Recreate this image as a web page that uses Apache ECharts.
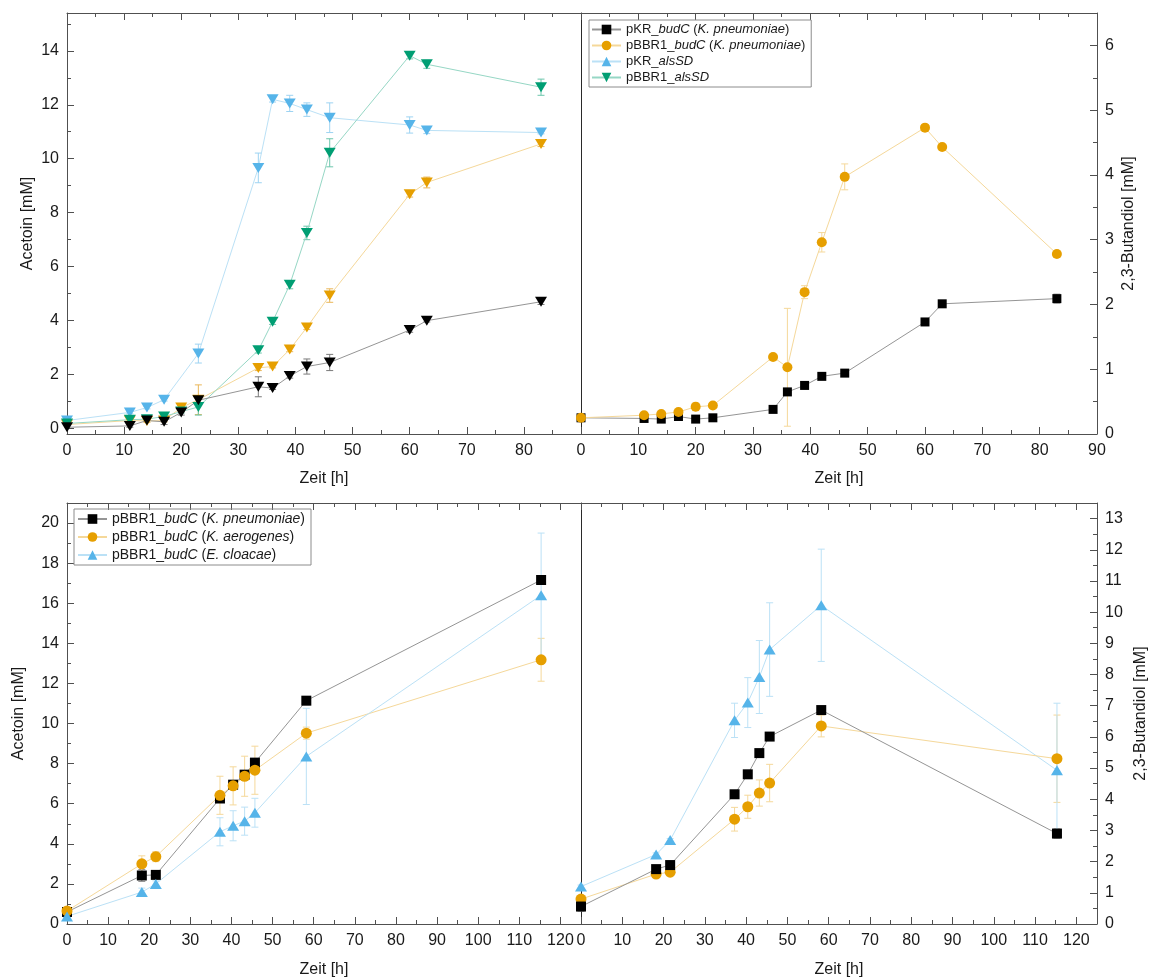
<!DOCTYPE html>
<html><head><meta charset="utf-8">
<script src="https://cdn.jsdelivr.net/npm/echarts@6/dist/echarts.min.js"></script>
<style>html,body{margin:0;padding:0;background:#fff}#c{width:1153px;height:980px}</style>
</head><body><div id="c"></div>
<script>
// ---------------- data ----------------
// Top row (time in h)
const tTop = [0, 11, 14, 17, 20, 23, 33.5, 36, 39, 42, 46, 60, 63, 83];
const acetoinTop_pKR_budC    = [0.05, 0.1, 0.3, 0.25, 0.6, 1.05, 1.55, 1.5, 1.95, 2.3, 2.45, 3.65, 4.0, 4.7];
const acetoinTop_pBBR1_budC  = [0.15, 0.3, 0.28, 0.3, 0.78, 1.07, 2.25, 2.3, 2.93, 3.75, 4.93, 8.68, 9.12, 10.55];
const acetoinTop_pKR_alsSD   = [0.3, 0.6, 0.78, 1.07, null, 2.78, 9.66, 12.2, 12.05, 11.82, 11.52, 11.25, 11.05, 10.97];
const acetoinTop_pBBR1_alsSD = [0.19, 0.33, 0.35, 0.45, 0.63, 0.8, 2.9, 3.96, 5.33, 7.25, 10.22, 13.82, 13.5, 12.65];
const acetoinTopErr_pKR_budC    = [0, 0.05, 0, 0.1, 0.1, 0.1, 0.37, 0.05, 0.08, 0.28, 0.3, 0.08, 0.05, 0.1];
const acetoinTopErr_pBBR1_budC  = [0, 0.05, 0.05, 0.05, 0.15, 0.55, 0.1, 0.05, 0.08, 0.08, 0.25, 0.1, 0.2, 0.1];
const acetoinTopErr_pKR_alsSD   = [0.05, 0.05, 0.05, 0.05, null, 0.35, 0.55, 0.1, 0.3, 0.25, 0.55, 0.3, 0.12, 0.05];
const acetoinTopErr_pBBR1_alsSD = [0.05, 0.05, 0.05, 0.05, 0.05, 0.3, 0.1, 0.1, 0.15, 0.25, 0.52, 0.12, 0.15, 0.3];
const butandiolTop_pKR_budC   = [0.25, 0.24, 0.23, 0.27, 0.23, 0.25, 0.38, 0.65, 0.75, 0.89, 0.94, 1.73, 2.01, 2.09];
const butandiolTop_pBBR1_budC = [0.25, 0.29, 0.31, 0.34, 0.42, 0.44, 1.19, 1.03, 2.19, 2.96, 3.97, 4.73, 4.43, 2.78];
const butandiolTopErr_pKR_budC   = [0.02, 0.02, 0.02, 0.02, 0.02, 0.02, 0.02, 0.05, 0.02, 0.02, 0.02, 0.02, 0.02, 0.07];
const butandiolTopErr_pBBR1_budC = [0.02, 0.02, 0.02, 0.03, 0.06, 0.03, 0.02, 0.91, 0.1, 0.15, 0.2, 0.02, 0.02, 0.05];

// Bottom row
const tBottom = [0, 18.2, 21.6, 37.2, 40.4, 43.2, 45.7, 58.2, 115.3];
const acetoinBottom_Kpn = [0.6, 2.42, 2.45, 6.26, 6.95, 7.45, 8.05, 11.14, 17.16];
const acetoinBottom_Kae = [0.65, 3.0, 3.36, 6.42, 6.89, 7.37, 7.67, 9.52, 13.18];
const acetoinBottom_Ecl = [0.38, 1.59, 2.0, 4.6, 4.9, 5.13, 5.55, 8.36, 16.4];
const acetoinBottomErr_Kpn = [0.1, 0.3, 0.1, 0.1, 0.1, 0.1, 0.1, 0.2, 0.2];
const acetoinBottomErr_Kae = [0.1, 0.4, 0.25, 0.95, 0.95, 1.0, 1.2, 0.3, 1.07];
const acetoinBottomErr_Ecl = [0.05, 0.2, 0.15, 0.7, 0.75, 0.7, 0.72, 2.4, 3.1];
const butandiolBottom_Kpn = [0.56, 1.76, 1.89, 4.16, 4.8, 5.48, 6.01, 6.86, 2.9];
const butandiolBottom_Kae = [0.8, 1.6, 1.66, 3.36, 3.76, 4.2, 4.52, 6.35, 5.3];
const butandiolBottom_Ecl = [1.2, 2.23, 2.69, 6.53, 7.1, 7.92, 8.8, 10.22, 4.93];
const butandiolBottomErr_Kpn = [0.15, 0.1, 0.1, 0.1, 0.1, 0.1, 0.1, 0.1, 0.15];
const butandiolBottomErr_Kae = [0.1, 0.1, 0.1, 0.38, 0.37, 0.42, 0.6, 0.35, 1.4];
const butandiolBottomErr_Ecl = [0.05, 0.05, 0.05, 0.55, 0.8, 1.17, 1.5, 1.8, 2.15];

// names (bottom names carry a trailing space so they stay distinct from the top legend's series)
const legendTopNames = ['pKR_budC (K. pneumoniae)', 'pBBR1_budC (K. pneumoniae)', 'pKR_alsSD', 'pBBR1_alsSD'];
const legendBottomNames = ['pBBR1_budC (K. pneumoniae) ', 'pBBR1_budC (K. aerogenes) ', 'pBBR1_budC (E. cloacae) '];

// ticks
const xMajorTop = [0, 10, 20, 30, 40, 50, 60, 70, 80, 90];
const xMinorTop = [5, 15, 25, 35, 45, 55, 65, 75, 85];
const xLabelsTopLeft = [0, 10, 20, 30, 40, 50, 60, 70, 80];
const xLabelsTopRight = [0, 10, 20, 30, 40, 50, 60, 70, 80, 90];
const yMajorAcetoinTop = [0, 2, 4, 6, 8, 10, 12, 14];
const yMinorAcetoinTop = [1, 3, 5, 7, 9, 11, 13, 15];
const yMajorButandiolTop = [0, 1, 2, 3, 4, 5, 6];
const yMinorButandiolTop = [0.5, 1.5, 2.5, 3.5, 4.5, 5.5];
const xMajorBottom = [0, 10, 20, 30, 40, 50, 60, 70, 80, 90, 100, 110, 120];
const xMinorBottom = [5, 15, 25, 35, 45, 55, 65, 75, 85, 95, 105, 115];
const yMajorAcetoinBottom = [0, 2, 4, 6, 8, 10, 12, 14, 16, 18, 20];
const yMinorAcetoinBottom = [1, 3, 5, 7, 9, 11, 13, 15, 17, 19];
const yMajorButandiolBottom = [0, 1, 2, 3, 4, 5, 6, 7, 8, 9, 10, 11, 12, 13];
const yMinorButandiolBottom = [0.5, 1.5, 2.5, 3.5, 4.5, 5.5, 6.5, 7.5, 8.5, 9.5, 10.5, 11.5, 12.5];

// ---------------- styling ----------------
const FONT = "'Liberation Sans', Arial, Helvetica, sans-serif";
const AX = '#505050';
const DIV = '#2a2a2a';
const TXT = '#1a1a1a';
const C_BLACK = '#000000', L_BLACK = '#959595';
const C_ORANGE = '#E69F00', L_ORANGE = '#F5D89A';
const C_BLUE = '#56B4E9', L_BLUE = '#BBE1F6';
const C_GREEN = '#009E73', L_GREEN = '#96D7C5';

const xAxes = [], yAxes = [];
function addXAxes(grid, min, max, major, minor, labels, name, nameGap) {
  const base = {gridIndex: grid, type: 'value', min: min, max: max, splitLine: {show: false}, axisPointer: {show: false}};
  const idx = xAxes.length;
  xAxes.push(Object.assign({}, base, {position: 'bottom', name: name, nameLocation: 'middle', nameGap: nameGap,
    nameTextStyle: {fontFamily: FONT, fontSize: 16, color: TXT},
    axisLine: {show: true, onZero: false, lineStyle: {color: AX, width: 1}},
    axisTick: {show: true, inside: true, length: 7, customValues: major, lineStyle: {color: AX}},
    axisLabel: {show: true, customValues: labels, margin: 9, fontFamily: FONT, fontSize: 16, color: TXT}}));
  xAxes.push(Object.assign({}, base, {position: 'bottom', axisLine: {show: false, onZero: false},
    axisTick: {show: true, inside: true, length: 4, customValues: minor, lineStyle: {color: AX}}, axisLabel: {show: false}}));
  xAxes.push(Object.assign({}, base, {position: 'top', axisLine: {show: true, onZero: false, lineStyle: {color: AX, width: 1}},
    axisTick: {show: true, inside: true, length: 7, customValues: major, lineStyle: {color: AX}}, axisLabel: {show: false}}));
  xAxes.push(Object.assign({}, base, {position: 'top', axisLine: {show: false, onZero: false},
    axisTick: {show: true, inside: true, length: 4, customValues: minor, lineStyle: {color: AX}}, axisLabel: {show: false}}));
  return idx;
}
function addYAxes(grid, pos, min, max, major, minor, name, nameGap, divider) {
  const base = {gridIndex: grid, type: 'value', min: min, max: max, position: pos, splitLine: {show: false}, axisPointer: {show: false}};
  const idx = yAxes.length;
  yAxes.push(Object.assign({}, base, {name: name, nameLocation: 'middle', nameGap: nameGap, nameRotate: 90,
    nameTextStyle: {fontFamily: FONT, fontSize: 16, color: TXT},
    axisLine: {show: true, onZero: false, lineStyle: {color: AX, width: 1}},
    axisTick: {show: true, inside: true, length: 7, customValues: major, lineStyle: {color: AX}},
    axisLabel: {show: true, customValues: major, margin: 8, fontFamily: FONT, fontSize: 16, color: TXT}}));
  yAxes.push(Object.assign({}, base, {axisLine: {show: false, onZero: false},
    axisTick: {show: true, inside: true, length: 4, customValues: minor, lineStyle: {color: AX}}, axisLabel: {show: false}}));
  if (divider) {
    // plain line on the panel's left edge (shared border between the two panels)
    yAxes.push({gridIndex: grid, type: 'value', min: min, max: max, position: 'left', splitLine: {show: false},
      axisLine: {show: true, onZero: false, lineStyle: {color: DIV, width: 1}}, axisTick: {show: false}, axisLabel: {show: false}});
  }
  return idx;
}

const xTL = addXAxes(0, 0, 90, xMajorTop, xMinorTop, xLabelsTopLeft, 'Zeit [h]', 37);
const xTR = addXAxes(1, 0, 90, xMajorTop, xMinorTop, xLabelsTopRight, 'Zeit [h]', 37);
const xBL = addXAxes(2, 0, 125, xMajorBottom, xMinorBottom, xMajorBottom, 'Zeit [h]', 38);
const xBR = addXAxes(3, 0, 125, xMajorBottom, xMinorBottom, xMajorBottom, 'Zeit [h]', 38);
const yTL = addYAxes(0, 'left', -0.2, 15.4, yMajorAcetoinTop, yMinorAcetoinTop, 'Acetoin [mM]', 31, false);
const yTR = addYAxes(1, 'right', 0, 6.5, yMajorButandiolTop, yMinorButandiolTop, '2,3-Butandiol [mM]', 24, true);
const yBL = addYAxes(2, 'left', 0, 21, yMajorAcetoinBottom, yMinorAcetoinBottom, 'Acetoin [mM]', 40, false);
const yBR = addYAxes(3, 'right', 0, 13.5, yMajorButandiolBottom, yMinorButandiolBottom, '2,3-Butandiol [mM]', 36, true);

function pairs(t, v) {
  const out = [];
  t.forEach((x, i) => { if (v[i] != null) out.push([x, v[i]]); });
  return out;
}
function errTriples(t, v, e) {
  const out = [];
  t.forEach((x, i) => { if (v[i] != null && e[i]) out.push([x, v[i] - e[i], v[i] + e[i]]); });
  return out;
}
function lineS(name, xi, yi, t, v, color, lcolor, symbol, size, rotate) {
  return {type: 'line', name: name, xAxisIndex: xi, yAxisIndex: yi, data: pairs(t, v),
    symbol: symbol, symbolSize: size, symbolRotate: rotate || 0, showSymbol: true, showAllSymbol: true,
    itemStyle: {color: color, borderWidth: 0}, lineStyle: {color: lcolor, width: 1}, z: 3,
    emphasis: {disabled: true}, silent: true};
}
function errS(xi, yi, t, v, e, color) {
  return {type: 'custom', xAxisIndex: xi, yAxisIndex: yi, data: errTriples(t, v, e), encode: {x: 0, y: [1, 2]},
    z: 2, silent: true, itemStyle: {color: color},
    renderItem: function (params, api) {
      const x = api.value(0);
      const p1 = api.coord([x, api.value(1)]);
      const p2 = api.coord([x, api.value(2)]);
      const w = 3.5;
      const st = {stroke: color, lineWidth: 1, fill: null};
      return {type: 'group', children: [
        {type: 'line', shape: {x1: p1[0], y1: p1[1], x2: p2[0], y2: p2[1]}, style: st},
        {type: 'line', shape: {x1: p1[0] - w, y1: p1[1], x2: p1[0] + w, y2: p1[1]}, style: st},
        {type: 'line', shape: {x1: p2[0] - w, y1: p2[1], x2: p2[0] + w, y2: p2[1]}, style: st}
      ]};
    }};
}

const TRI = [12, 10];
const series = [
  // top-right (first, so that the legend takes its symbols)
  lineS(legendTopNames[0], xTR, yTR, tTop, butandiolTop_pKR_budC, C_BLACK, L_BLACK, 'rect', 9),
  lineS(legendTopNames[1], xTR, yTR, tTop, butandiolTop_pBBR1_budC, C_ORANGE, L_ORANGE, 'circle', 10),
  lineS(legendTopNames[2], xTR, yTR, [], [], C_BLUE, L_BLUE, 'triangle', 10),
  lineS(legendTopNames[3], xTR, yTR, [], [], C_GREEN, L_GREEN, 'triangle', 10, 180),
  errS(xTR, yTR, tTop, butandiolTop_pKR_budC, butandiolTopErr_pKR_budC, L_BLACK),
  errS(xTR, yTR, tTop, butandiolTop_pBBR1_budC, butandiolTopErr_pBBR1_budC, L_ORANGE),
  // bottom-left acetoin (before bottom-right so the bottom legend takes these symbols)
  errS(xBL, yBL, tBottom, acetoinBottom_Kpn, acetoinBottomErr_Kpn, L_BLACK),
  errS(xBL, yBL, tBottom, acetoinBottom_Kae, acetoinBottomErr_Kae, L_ORANGE),
  errS(xBL, yBL, tBottom, acetoinBottom_Ecl, acetoinBottomErr_Ecl, L_BLUE),
  lineS(legendBottomNames[0], xBL, yBL, tBottom, acetoinBottom_Kpn, C_BLACK, L_BLACK, 'rect', 10),
  lineS(legendBottomNames[1], xBL, yBL, tBottom, acetoinBottom_Kae, C_ORANGE, L_ORANGE, 'circle', 11),
  lineS(legendBottomNames[2], xBL, yBL, tBottom, acetoinBottom_Ecl, C_BLUE, L_BLUE, 'triangle', TRI),
  // top-left acetoin
  errS(xTL, yTL, tTop, acetoinTop_pKR_budC, acetoinTopErr_pKR_budC, '#7a7a7a'),
  errS(xTL, yTL, tTop, acetoinTop_pBBR1_budC, acetoinTopErr_pBBR1_budC, '#EAB75A'),
  errS(xTL, yTL, tTop, acetoinTop_pKR_alsSD, acetoinTopErr_pKR_alsSD, '#9DD3F2'),
  errS(xTL, yTL, tTop, acetoinTop_pBBR1_alsSD, acetoinTopErr_pBBR1_alsSD, '#6CC6AC'),
  lineS(legendTopNames[2], xTL, yTL, tTop, acetoinTop_pKR_alsSD, C_BLUE, L_BLUE, 'triangle', TRI, 180),
  lineS(legendTopNames[1], xTL, yTL, tTop, acetoinTop_pBBR1_budC, C_ORANGE, L_ORANGE, 'triangle', TRI, 180),
  lineS(legendTopNames[3], xTL, yTL, tTop, acetoinTop_pBBR1_alsSD, C_GREEN, L_GREEN, 'triangle', TRI, 180),
  lineS(legendTopNames[0], xTL, yTL, tTop, acetoinTop_pKR_budC, C_BLACK, L_BLACK, 'triangle', TRI, 180),
  // bottom-right butandiol
  errS(xBR, yBR, tBottom, butandiolBottom_Kpn, butandiolBottomErr_Kpn, L_BLACK),
  errS(xBR, yBR, tBottom, butandiolBottom_Kae, butandiolBottomErr_Kae, L_ORANGE),
  errS(xBR, yBR, tBottom, butandiolBottom_Ecl, butandiolBottomErr_Ecl, L_BLUE),
  lineS(legendBottomNames[2], xBR, yBR, tBottom, butandiolBottom_Ecl, C_BLUE, L_BLUE, 'triangle', TRI),
  lineS(legendBottomNames[1], xBR, yBR, tBottom, butandiolBottom_Kae, C_ORANGE, L_ORANGE, 'circle', 11),
  lineS(legendBottomNames[0], xBR, yBR, tBottom, butandiolBottom_Kpn, C_BLACK, L_BLACK, 'rect', 10)
];

function richName(name) {
  const m = name.trim().match(/^([^_]+_)(\S+)(?: \((.+)\))?$/);
  if (!m) return name.trim();
  let s = '{n|' + m[1] + '}{i|' + m[2] + '}';
  if (m[3]) s += '{n| (}{i|' + m[3] + '}{n|)}';
  return s;
}
function legendCfg(names, left, top, fs, gap, pad) {
  return {data: names, left: left, top: top, orient: 'vertical', itemWidth: 29, itemHeight: 12, itemGap: gap,
    padding: pad, borderColor: '#8c8c8c', borderWidth: 1, borderRadius: 0, backgroundColor: 'rgba(255,255,255,0)',
    selectedMode: false, formatter: richName, icon: 'inherit',
    textStyle: {fontFamily: FONT, fontSize: fs, color: TXT, padding: [0, 0, 0, 0],
      rich: {n: {fontFamily: FONT, fontSize: fs, color: TXT},
             i: {fontFamily: FONT, fontSize: fs, color: TXT, fontStyle: 'italic'}}}};
}

const grid = [
  {left: 67, top: 13, width: 514, height: 421},
  {left: 581, top: 13, width: 516, height: 421},
  {left: 67, top: 503, width: 514, height: 421},
  {left: 581, top: 503, width: 516, height: 421}
].map(g => Object.assign(g, {show: false, containLabel: false, outerBoundsMode: 'none'}));

const chart = echarts.init(document.getElementById('c'), null, {renderer: 'canvas'});
chart.setOption({
  animation: false,
  backgroundColor: '#ffffff',
  textStyle: {fontFamily: FONT},
  grid: grid,
  xAxis: xAxes,
  yAxis: yAxes,
  legend: [
    legendCfg(legendTopNames, 589, 20, 13, 3, [3, 6, 3, 2]),
    legendCfg(legendBottomNames, 74, 509, 14, 4, [3, 6, 3, 3])
  ],
  tooltip: {show: false},
  series: series
});
</script></body></html>
